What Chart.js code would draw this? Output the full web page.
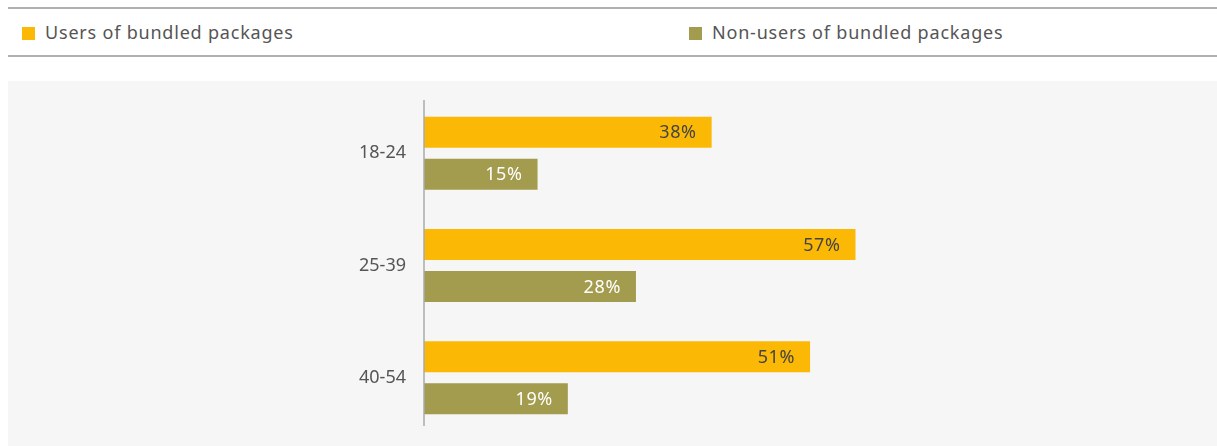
<!DOCTYPE html>
<html>
<head>
<meta charset="utf-8">
<script src="https://cdn.jsdelivr.net/npm/chart.js@4.4.1/dist/chart.umd.min.js"></script>
<style>
    body { margin: 0; width: 1217px; height: 446px; background: #fff; font-family: 'Noto Sans', sans-serif; overflow: hidden; position: relative; }
    #legend { position: absolute; left: 8px; top: 7px; width: 1209px; height: 46px; border-top: 2px solid #b0b0b0; border-bottom: 2px solid #b0b0b0; }
    .item { position: absolute; top: 11px; font-size: 18px; letter-spacing: 0.8px; color: #555; line-height: 24px; white-space: nowrap; }
    .item span { display: inline-block; width: 13px; height: 13px; margin-right: 10px; vertical-align: -1px; }
    #panel { position: absolute; left: 8px; top: 81px; width: 1209px; height: 365px; background: #f6f6f6; }
</style>
</head>
<body>
<div id="legend"></div>
<div id="panel"><canvas id="ageChart"></canvas></div>
<script>
// Age groups and share of respondents in each group
const ageGroups = ['18-24', '25-39', '40-54'];
const seriesNames = ['Users of bundled packages', 'Non-users of bundled packages'];
const usersValues = [38, 57, 51];
const nonUsersValues = [15, 28, 19];
const seriesColors = ['#fbb905', '#a39b4d'];
const labelColors = ['#444444', '#ffffff'];

// Legend sits above the grey panel
const legendBox = document.getElementById('legend');
const legendLeft = [14, 681];
seriesNames.forEach((name, i) => {
    const div = document.createElement('div');
    div.className = 'item';
    div.style.left = legendLeft[i] + 'px';
    div.innerHTML = '<span style="background:' + seriesColors[i] + '"></span>' + name;
    legendBox.appendChild(div);
});

// Percent labels inside the end of each bar
const valueLabels = {
    id: 'valueLabels',
    afterDatasetsDraw: (chart) => {
        const ctx = chart.ctx;
        ctx.save();
        ctx.font = '18px "Noto Sans"';
        ctx.letterSpacing = '0.6px';
        ctx.textAlign = 'right';
        ctx.textBaseline = 'middle';
        chart.data.datasets.forEach((ds, d) => {
            chart.getDatasetMeta(d).data.forEach((bar, i) => {
                ctx.fillStyle = labelColors[d];
                ctx.fillText(ds.data[i] + '%', bar.x - 15, bar.y + 1);
            });
        });
        ctx.restore();
    }
};

// Vertical axis line to the left of the bars
const axisLine = {
    id: 'axisLine',
    afterDraw: (chart) => {
        const ctx = chart.ctx;
        const area = chart.chartArea;
        ctx.save();
        ctx.strokeStyle = '#aaaaaa';
        ctx.lineWidth = 1.5;
        ctx.beginPath();
        ctx.moveTo(area.left, area.top + 3);
        ctx.lineTo(area.left, area.bottom - 8);
        ctx.stroke();
        ctx.restore();
    }
};

var ageCtx = document.getElementById('ageChart').getContext('2d');
var ageChart = new Chart(ageCtx, {
    type: 'bar',
    data: {
        labels: ageGroups,
        datasets: [{
            label: seriesNames[0],
            data: usersValues,
            backgroundColor: seriesColors[0]
        }, {
            label: seriesNames[1],
            data: nonUsersValues,
            backgroundColor: seriesColors[1]
        }]
    },
    options: {
        indexAxis: 'y',
        responsive: true,
        maintainAspectRatio: false,
        animation: false,
        layout: {
            padding: { top: 16, bottom: 12, right: 36 }
        },
        datasets: {
            bar: {
                categoryPercentage: 0.747,
                barPercentage: 0.738
            }
        },
        scales: {
            x: {
                display: false,
                min: 0,
                max: 100
            },
            y: {
                grid: { display: false, drawTicks: false },
                border: { display: false },
                ticks: {
                    color: '#555',
                    padding: 18,
                    font: { family: 'Noto Sans', size: 18 }
                },
                afterFit: (scale) => {
                    scale.width = 416;
                    // keep the label padding from pushing the bars inward
                    scale.paddingTop = 0;
                    scale.paddingBottom = 0;
                }
            }
        },
        plugins: {
            legend: { display: false },
            tooltip: { enabled: false }
        }
    },
    plugins: [valueLabels, axisLine]
});
</script>
</body>
</html>
